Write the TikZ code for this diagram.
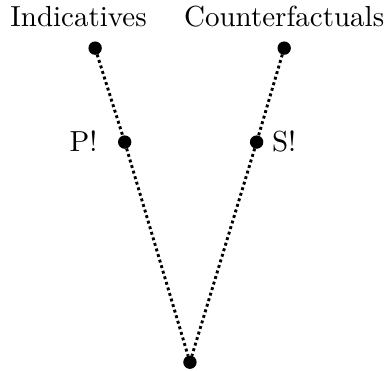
\documentclass[tikz,border=0pt]{standalone}
\usepackage{tikz}
\usetikzlibrary{positioning}

\begin{document}
\begin{tikzpicture}[x=1pt,y=1pt,
    world/.style={draw, circle, fill=black, inner sep=0pt, minimum size=4.2pt},
    link/.style={densely dotted, line width=1pt}]
  \useasboundingbox (0,0) rectangle (133.8,127.6);
  \node[world] (root) at (65.5,2.7) {};
  \node[world] (ind) at (32.8,111.0) {};
  \node[world] (cf) at (98.0,111.0) {};
  \node[world] (p) at (43.0,78.6) {};
  \node[world] (s) at (88.5,78.6) {};
  \node[anchor=base] (indlab) at (27.1,118.3) {Indicatives};
  \node[anchor=base] (cflab) at (98.0,118.3) {Counterfactuals};
  \node[anchor=base] (plab) at (28.8,75.2) {P!};
  \node[anchor=base] (slab) at (98.0,75.2) {S!};
  \draw[link] (ind) -- (p) -- (root);
  \draw[link] (cf) -- (s) -- (root);
\end{tikzpicture}
\end{document}
